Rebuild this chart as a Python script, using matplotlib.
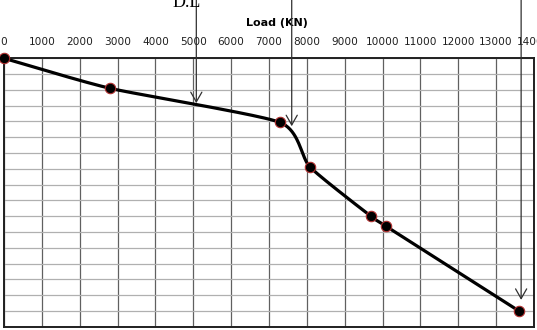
import numpy as np
import matplotlib
matplotlib.use("Agg")
from matplotlib import pyplot as plt

# load (KN) vs settlement (grid units, downward)
load = [0, 2800, 7290, 8080, 9685, 10080, 13600]
settle = [0, 1.9, 4.06, 6.88, 9.99, 10.62, 16.0]

# vertical arrows from above the chart: (load, tip settlement)
arrow_x = [5080, 7600, 13660]
arrow_tip = [2.84, 4.3, 15.3]
arrow_text = ["D.L", "", ""]
text_x = [4830, 7600, 13660]

x_ticks = list(range(0, 14001, 1000))


def smooth(xs, ys, sx, sy, c=0.3, n=40):
    # cardinal spline through the points, in screen-like scaling
    p = np.column_stack([np.array(xs) * sx, np.array(ys) * sy])
    m = np.zeros_like(p)
    m[1:-1] = c * (p[2:] - p[:-2])
    m[0] = c * 2 * (p[1] - p[0])
    m[-1] = c * 2 * (p[-1] - p[-2])
    t = np.linspace(0, 1, n)[:, None]
    h00 = 2 * t**3 - 3 * t**2 + 1
    h10 = t**3 - 2 * t**2 + t
    h01 = -2 * t**3 + 3 * t**2
    h11 = t**3 - t**2
    out = [h00 * p[i] + h10 * m[i] + h01 * p[i + 1] + h11 * m[i + 1]
           for i in range(len(p) - 1)]
    out = np.vstack(out)
    return out[:, 0] / sx, out[:, 1] / sy


fig = plt.figure(figsize=(5.37, 3.30), dpi=100)
ax = fig.add_axes([4 / 537, 3.3 / 330, 530 / 537, 268.4 / 330])

ax.set_xlim(0, 14000)
ax.set_ylim(17, 0)
ax.xaxis.tick_top()
ax.xaxis.set_label_position("top")
ax.set_xticks(x_ticks)
ax.set_xticklabels([str(v) for v in x_ticks], fontsize=7.6, color="#202020")
ax.set_yticks(np.arange(0, 18, 1))
ax.set_yticklabels([])
ax.tick_params(axis="both", length=0, pad=8)
ax.set_xlabel("Load (KN)", fontsize=8, fontweight="bold", labelpad=2)
ax.xaxis.set_label_coords(0.515, 1.12)

ax.grid(axis="x", color="#606060", linewidth=0.9)
ax.grid(axis="y", color="#b0b0b0", linewidth=0.9)
for s in ax.spines.values():
    s.set_linewidth(1.4)
    s.set_color("#202020")

cx, cy = smooth(load, settle, 37.86 / 1000, 15.76)
ax.plot(cx, cy, color="black", linewidth=2.3, zorder=3)
ax.plot(load, settle, "o", color="black", markersize=7.5,
        markeredgecolor="#b03030", markeredgewidth=0.8, zorder=4, clip_on=False)

for xa, tip in zip(arrow_x, arrow_tip):
    ax.annotate("", xy=(xa, tip), xytext=(xa, -4.5), xycoords="data",
                annotation_clip=False,
                arrowprops=dict(arrowstyle="->,head_length=0.7,head_width=0.4",
                                color="#303030", linewidth=0.9,
                                shrinkA=0, shrinkB=0))

for tx, t in zip(text_x, arrow_text):
    if t:
        ax.text(tx, -3.28, t, fontsize=13, family="Liberation Serif",
                ha="center", va="baseline", clip_on=False)

fig.savefig("out.png", dpi=100)
